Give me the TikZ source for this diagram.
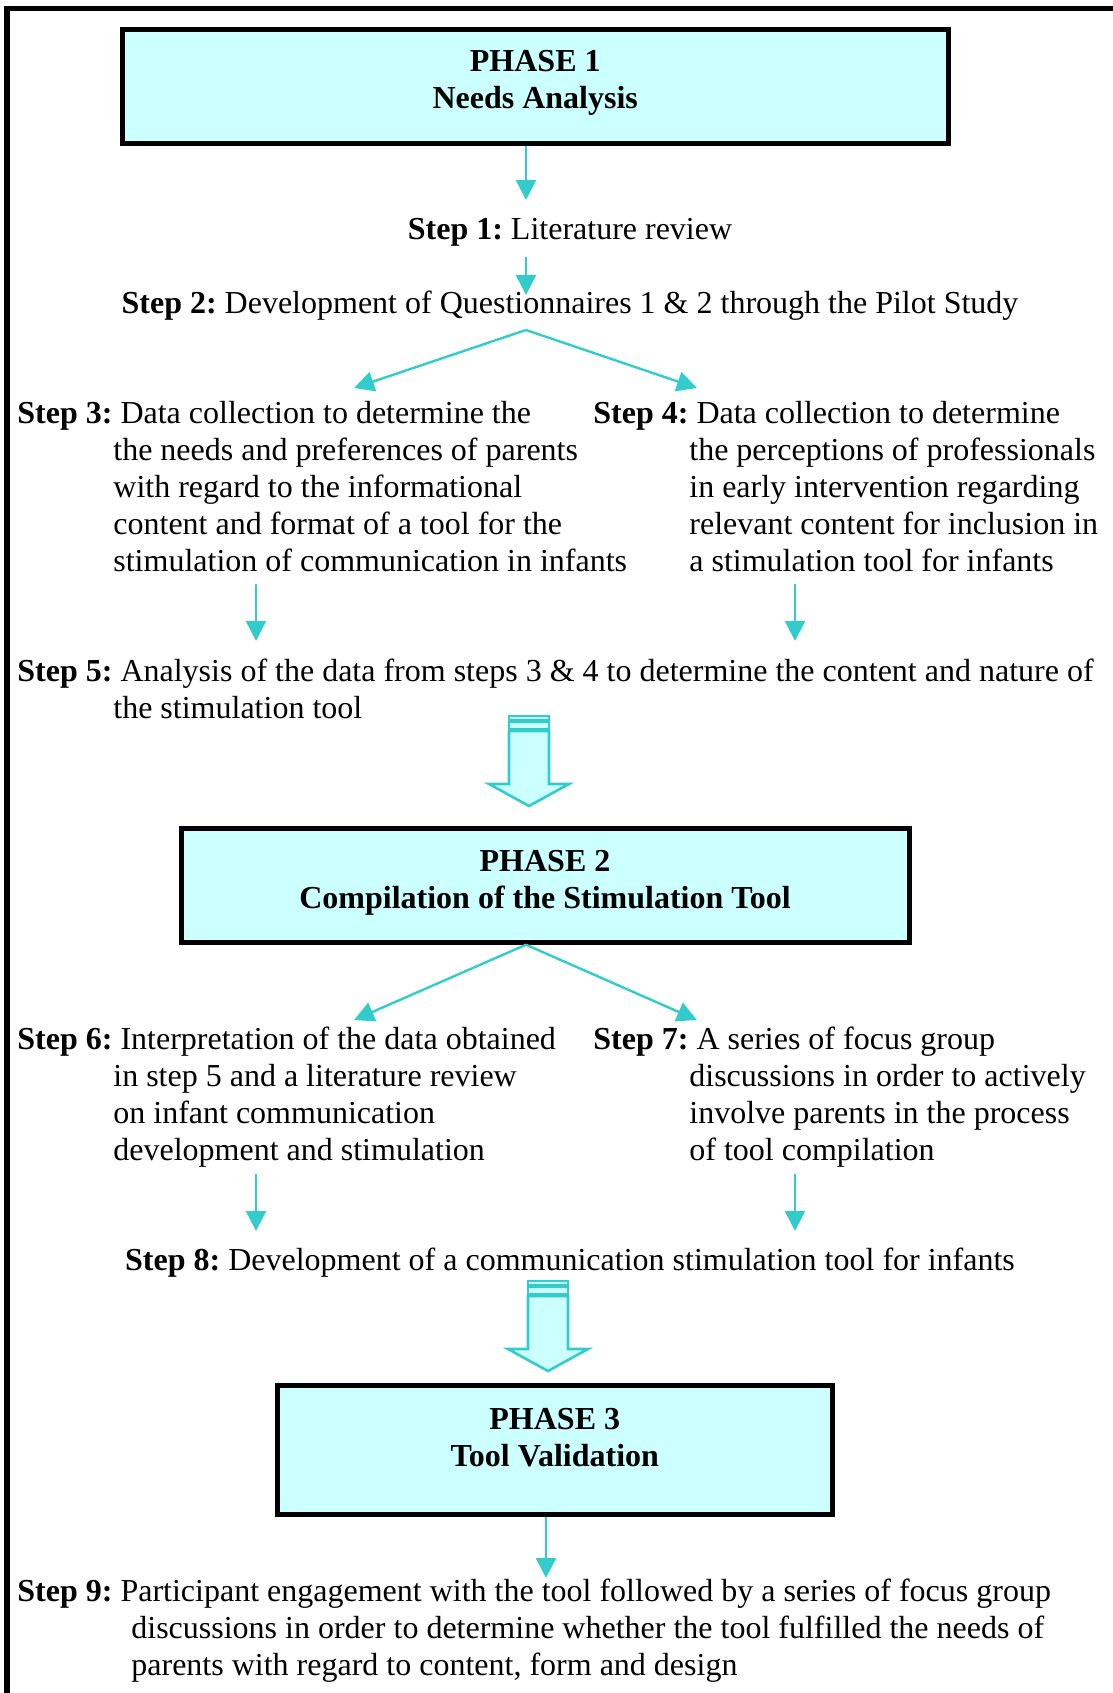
\documentclass[tikz,border=0pt]{standalone}
\usepackage{fontspec}
\setmainfont{Liberation Serif}
\usetikzlibrary{arrows.meta}
\definecolor{phasecyan}{RGB}{204,255,255}
\definecolor{flowteal}{RGB}{51,204,204}

\begin{document}
\begin{tikzpicture}[x=0.5pt,y=-0.5pt,
  phasebox/.style={draw=black, line width=2.5pt, fill=phasecyan, align=center, font=\fontsize{16}{18.5}\selectfont\bfseries},
  steptext/.style={inner sep=0pt, anchor=base west, align=flush left, font=\fontsize{16}{18.5}\selectfont\frenchspacing},
  stepline/.style={inner sep=0pt, anchor=base, font=\fontsize{16}{18.5}\selectfont\frenchspacing},
  flow/.style={draw=flowteal, line width=1.2pt, -{Triangle[width=10pt,length=10pt]}},
  bigarrow/.style={draw=flowteal, line width=1.3pt, fill=phasecyan, line join=miter}]
\useasboundingbox (0,0) rectangle (1113,1693);

% Frame
\draw[line width=2.8pt] (7,1700) -- (7,8.5) -- (1120,8.5);

% Phase 1
\node[phasebox, minimum width=412.75pt, minimum height=57pt, text depth=6.8pt] (ph1) at (535.25,86) {PHASE 1\\Needs Analysis};
\node[stepline] (st1) at (570,239) {\textbf{Step 1:} Literature review};
\node[stepline] (st2) at (570,313) {\textbf{Step 2:} Development of Questionnaires 1 \& 2 through the Pilot Study};
\node[steptext, text width=320pt] (st3) at (17,423) {\hangindent=48pt\hangafter=1 \textbf{Step 3:} Data collection to determine the\newline the needs and preferences of parents\newline with regard to the informational\newline content and format of a tool for the\newline stimulation of communication in infants\par};
\node[steptext, text width=300pt] (st4) at (593,423) {\hangindent=48pt\hangafter=1 \textbf{Step 4:} Data collection to determine\newline the perceptions of professionals\newline in early intervention regarding\newline relevant content for inclusion in\newline a stimulation tool for infants\par};
\node[steptext, text width=560pt] (st5) at (17,681) {\hangindent=48pt\hangafter=1 \textbf{Step 5:} Analysis of the data from steps 3 \& 4 to determine the content and nature of\newline the stimulation tool\par};

% Arrows phase 1
\coordinate (in1) at (526,200);
\coordinate (out1) at (526,257);
\coordinate (in2) at (526,295);
\coordinate (fork1) at (526,330);
\coordinate (in3) at (354,388);
\coordinate (in4) at (697,388);
\coordinate (out3) at (256,584);
\coordinate (out4) at (795,584);
\coordinate (in5a) at (256,641);
\coordinate (in5b) at (795,641);
\draw[flow] (ph1.south -| in1) -- (in1);
\draw[flow] (out1) -- (in2);
\draw[flow] (fork1) -- (in3);
\draw[flow] (fork1) -- (in4);
\draw[flow] (out3) -- (in5a);
\draw[flow] (out4) -- (in5b);

% Big arrow to phase 2
\draw[bigarrow] (509,716) rectangle (549,720);
\draw[bigarrow] (509,722) rectangle (549,729);
\draw[bigarrow] (509,731) -- (509,784) -- (489,784) -- (529,806) -- (569,784) -- (549,784) -- (549,731) -- cycle;

% Phase 2
\node[phasebox, minimum width=364pt, minimum height=57pt, text depth=6.2pt] (ph2) at (545,885.2) {PHASE 2\\Compilation of the Stimulation Tool};
\node[steptext, text width=300pt] (st6) at (17,1049) {\hangindent=48pt\hangafter=1 \textbf{Step 6:} Interpretation of the data obtained\newline in step 5 and a literature review\newline on infant communication\newline development and stimulation\par};
\node[steptext, text width=300pt] (st7) at (593,1049) {\hangindent=48pt\hangafter=1 \textbf{Step 7:} A series of focus group\newline discussions in order to actively\newline involve parents in the process\newline of tool compilation\par};
\node[stepline] (st8) at (570,1270) {\textbf{Step 8:} Development of a communication stimulation tool for infants};

% Arrows phase 2
\coordinate (fork2) at (526,942);
\coordinate (in6) at (354,1020);
\coordinate (in7) at (697,1020);
\coordinate (out6) at (256,1174);
\coordinate (out7) at (795,1174);
\coordinate (in8a) at (256,1231);
\coordinate (in8b) at (795,1231);
\draw[flow] (ph2.south -| fork2) -- (in6);
\draw[flow] (ph2.south -| fork2) -- (in7);
\draw[flow] (out6) -- (in8a);
\draw[flow] (out7) -- (in8b);

% Big arrow to phase 3
\draw[bigarrow] (528,1281) rectangle (568,1285);
\draw[bigarrow] (528,1287) rectangle (568,1294);
\draw[bigarrow] (528,1296) -- (528,1349) -- (508,1349) -- (548,1371) -- (588,1349) -- (568,1349) -- (568,1296) -- cycle;

% Phase 3
\node[phasebox, minimum width=277.25pt, minimum height=64.4pt, text depth=12.5pt] (ph3) at (554.75,1449.9) {PHASE 3\\Tool Validation};
\node[steptext, text width=560pt] (st9) at (17,1601) {\hangindent=57pt\hangafter=1 \textbf{Step 9:} Participant engagement with the tool followed by a series of focus group\newline discussions in order to determine whether the tool fulfilled the needs of\newline parents with regard to content, form and design\par};

\coordinate (in9) at (546,1578);
\draw[flow] (ph3.south -| in9) -- (in9);
\end{tikzpicture}
\end{document}
